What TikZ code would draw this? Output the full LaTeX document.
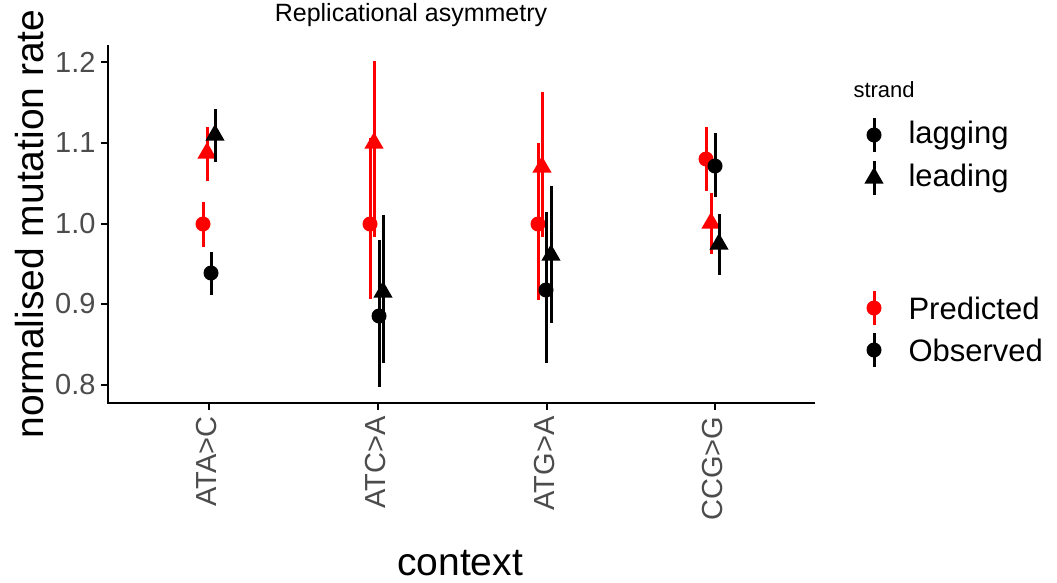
\documentclass[tikz,border=0pt]{standalone}
\usepackage{fontspec}
\setmainfont{Liberation Sans}
\usetikzlibrary{shapes.geometric}
\begin{document}
\begin{tikzpicture}[x=1pt,y=-1pt,
  gr/.style={text=black!70},
  bar/.style={line width=3pt},
  circ/.style={circle,inner sep=0pt,minimum size=15pt},
  tri/.style={regular polygon,regular polygon sides=3,inner sep=0pt,minimum size=22pt}]
\useasboundingbox (0,0) rectangle (1057,582);
% axes
\draw[line width=1.8pt] (108,45) -- (108,403) -- (815,403);
\foreach \v/\y in {1.2/62,1.1/143,1.0/224,0.9/304,0.8/385}{
  \draw[line width=1.4pt] (101,\y) -- (108,\y);
  \node[gr,anchor=east,font=\fontsize{29}{29}\selectfont] at (99,\y) {\v};}
\foreach \l/\x in {ATA>C/209,ATC>A/378,ATG>A/547,CCG>G/715}{
  \draw[line width=1.4pt] (\x,403) -- (\x,410);
  \node[gr,anchor=east,rotate=90,font=\fontsize{29}{29}\selectfont] at (\x-2,413) {\l};}
\node[font=\fontsize{25}{25}\selectfont] (title) at (411,15) {Replicational asymmetry};
\node[rotate=90,font=\fontsize{39}{39}\selectfont] (ylab) at (30,224) {normalised mutation rate};
\node[font=\fontsize{39}{39}\selectfont] (xlab) at (460,563) {context};
% data: x, y, lo, hi
\def\pt#1#2#3#4#5#6{\draw[bar,#5] (#1,#3) -- (#1,#4); \node[#6,fill=#5] at (#1,#2) {};}
\pt{203}{224}{202}{247}{red}{circ}
\pt{207}{153}{127}{181}{red}{tri}
\pt{211}{273}{252}{295}{black}{circ}
\pt{215}{135}{109}{162}{black}{tri}
\pt{370}{224}{138}{299}{red}{circ}
\pt{374}{143}{61}{237}{red}{tri}
\pt{379}{316}{240}{387}{black}{circ}
\pt{383}{292}{215}{363}{black}{tri}
\pt{538}{224}{143}{300}{red}{circ}
\pt{542}{167}{92}{237}{red}{tri}
\pt{546}{290}{212}{363}{black}{circ}
\pt{551}{255}{186}{323}{black}{tri}
\pt{706}{159}{127}{191}{red}{circ}
\pt{711}{223}{193}{254}{red}{tri}
\pt{715}{166}{133}{197}{black}{circ}
\pt{719}{244}{214}{275}{black}{tri}
% legend
\node[anchor=west,font=\fontsize{22}{22}\selectfont] (lt) at (850,90) {strand};
\def\lg#1#2#3#4{\draw[bar,#3] (874,#1-17) -- (874,#1+17); \node[#2,fill=#3] at (874,#1) {};
  \node[anchor=west,font=\fontsize{31}{31}\selectfont] at (905,#1) {#4};}
\lg{135}{circ}{black}{lagging}
\lg{178}{tri}{black}{leading}
\lg{308}{circ}{red}{Predicted}
\lg{350}{circ}{black}{Observed}
\end{tikzpicture}
\end{document}
